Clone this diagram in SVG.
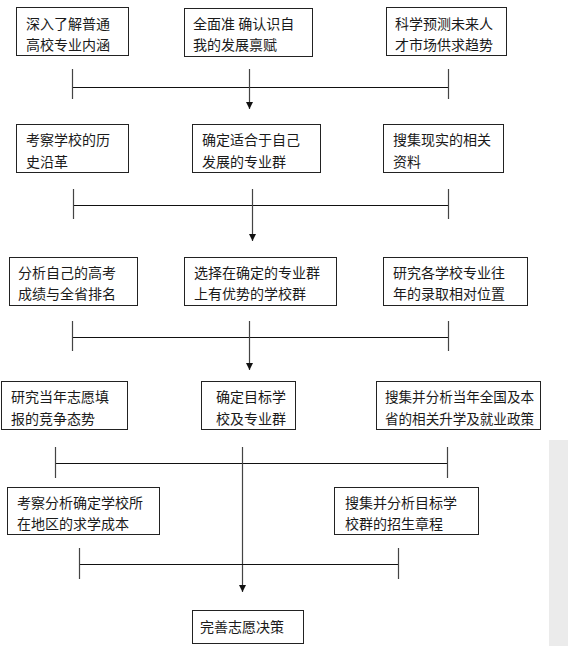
<svg xmlns="http://www.w3.org/2000/svg" width="568" height="646" viewBox="0 0 568 646">
<defs>
<marker id="ah" markerWidth="8" markerHeight="8" refX="7" refY="4" orient="auto" markerUnits="userSpaceOnUse">
<path d="M0,0.5 L7,4 L0,7.5 Z" fill="#111"/>
</marker>
<style>
.box{fill:#fff;stroke:#222;stroke-width:1}
.t{font-family:"Noto Sans CJK SC","Liberation Sans",sans-serif;font-size:14px;fill:#1a1a1a}
.ln{stroke:#111;stroke-width:1;fill:none}
.vl{stroke:#444;stroke-width:1.2;fill:none}
</style>
</defs>
<rect width="568" height="646" fill="#fff"/>
<rect x="549" y="440" width="19" height="206" fill="#ebebeb"/>

<g id="n1"><rect class="box" x="16.5" y="7.5" width="112" height="48"/><text class="t" x="26" y="28.5">深入了解普通</text><text class="t" x="26" y="49.5">高校专业内涵</text></g>
<g id="n2"><rect class="box" x="184.5" y="8.5" width="128" height="48"/><text class="t" x="193" y="28.5">全面准 确认识自</text><text class="t" x="193" y="50">我的发展禀赋</text></g>
<g id="n3"><rect class="box" x="386.5" y="7.5" width="120" height="48"/><text class="t" x="395" y="28.5">科学预测未来人</text><text class="t" x="395" y="49.5">才市场供求趋势</text></g>

<g id="n4"><rect class="box" x="16.5" y="124.5" width="112" height="48"/><text class="t" x="26" y="144.5">考察学校的历</text><text class="t" x="26" y="166.5">史沿革</text></g>
<g id="n5"><rect class="box" x="192.5" y="124.5" width="128" height="48"/><text class="t" x="202" y="144.5">确定适合于自己</text><text class="t" x="202" y="166.5">发展的专业群</text></g>
<g id="n6"><rect class="box" x="383.5" y="124.5" width="120" height="48"/><text class="t" x="393" y="144.5">搜集现实的相关</text><text class="t" x="393" y="166.5">资料</text></g>

<g id="n7"><rect class="box" x="9.5" y="257.5" width="128" height="48"/><text class="t" x="18" y="278">分析自己的高考</text><text class="t" x="18" y="299">成绩与全省排名</text></g>
<g id="n8"><rect class="box" x="184.5" y="257.5" width="152" height="48"/><text class="t" x="194" y="278">选择在确定的专业群</text><text class="t" x="194" y="299">上有优势的学校群</text></g>
<g id="n9"><rect class="box" x="383.5" y="257.5" width="144" height="48"/><text class="t" x="393" y="278">研究各学校专业往</text><text class="t" x="393" y="299">年的录取相对位置</text></g>

<g id="n10"><rect class="box" x="1.5" y="381.5" width="126" height="48"/><text class="t" x="11" y="402">研究当年志愿填</text><text class="t" x="11" y="423.5">报的竞争态势</text></g>
<g id="n11"><rect class="box" x="201.5" y="381.5" width="94" height="48"/><text class="t" x="216" y="402">确定目标学</text><text class="t" x="216" y="423.5">校及专业群</text></g>
<g id="n12"><rect class="box" x="376.5" y="381.5" width="164" height="48"/><text class="t" x="385" y="402" textLength="149" lengthAdjust="spacingAndGlyphs">搜集并分析当年全国及本</text><text class="t" x="385" y="423.5" textLength="149" lengthAdjust="spacingAndGlyphs">省的相关升学及就业政策</text></g>

<g id="n13"><rect class="box" x="7.5" y="487.5" width="152" height="47"/><text class="t" x="17" y="507.5">考察分析确定学校所</text><text class="t" x="17" y="528.5">在地区的求学成本</text></g>
<g id="n14"><rect class="box" x="334.5" y="487.5" width="144" height="47"/><text class="t" x="345" y="507.5">搜集并分析目标学</text><text class="t" x="345" y="528.5">校群的招生章程</text></g>

<g id="n15"><rect class="box" x="192.5" y="610.5" width="111" height="33"/><text class="t" x="200" y="631.5">完善志愿决策</text></g>

<g id="connectors">
<line class="ln" x1="72" y1="87.5" x2="448" y2="87.5"/>
<line class="vl" x1="72.5" y1="69" x2="72.5" y2="99"/>
<line class="vl" x1="448.5" y1="69" x2="448.5" y2="99"/>
<line class="vl" x1="249.5" y1="69" x2="249.5" y2="109" marker-end="url(#ah)"/>

<line class="ln" x1="73" y1="205.5" x2="448" y2="205.5"/>
<line class="vl" x1="73.5" y1="189" x2="73.5" y2="219"/>
<line class="vl" x1="448.5" y1="189" x2="448.5" y2="219"/>
<line class="vl" x1="252.5" y1="189" x2="252.5" y2="241" marker-end="url(#ah)"/>

<line class="ln" x1="72" y1="337.5" x2="448" y2="337.5"/>
<line class="vl" x1="72.5" y1="321" x2="72.5" y2="351"/>
<line class="vl" x1="448.5" y1="321" x2="448.5" y2="351"/>
<line class="vl" x1="249.5" y1="321" x2="249.5" y2="370" marker-end="url(#ah)"/>

<line class="ln" x1="55" y1="463.5" x2="447" y2="463.5"/>
<line class="vl" x1="55.5" y1="447" x2="55.5" y2="478"/>
<line class="vl" x1="447.5" y1="447" x2="447.5" y2="478"/>
<line class="vl" x1="242.5" y1="447" x2="242.5" y2="592" marker-end="url(#ah)"/>

<line class="ln" x1="79" y1="564.5" x2="398" y2="564.5"/>
<line class="vl" x1="79.5" y1="548" x2="79.5" y2="579"/>
<line class="vl" x1="398.5" y1="548" x2="398.5" y2="579"/>
</g>
</svg>
